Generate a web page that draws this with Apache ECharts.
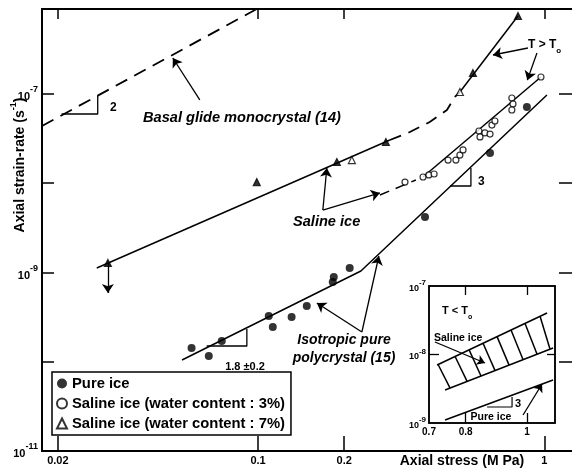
<!DOCTYPE html>
<html>
<head>
<meta charset="utf-8">
<script src="https://cdn.jsdelivr.net/npm/echarts@6/dist/echarts.min.js"></script>
<style>
    html, body { margin: 0; padding: 0; background: #fff; }
    #chart { width: 572px; height: 471px; }
</style>
</head>
<body>
<div id="chart"></div>
<script>
    var FONT = 'Liberation Sans, Arial, sans-serif';

    // tick values
    var xTicks = [0.02, 0.1, 0.2, 1];
    var yTicks = [1e-11, 1e-10, 1e-9, 1e-8, 1e-7];
    var yLabelled = [-11, -9, -7];
    var insetXLabels = [0.7, 0.8, 1];
    var insetXTicks = [0.8, 1];
    var insetYLabels = [1e-9, 1e-8, 1e-7];
    var insetYTicks = [1e-8];

    // measured points [axial stress (MPa), axial strain-rate (s-1)]
    var pureIce = [[0.0586, 1.43e-10], [0.0673, 1.16e-10], [0.0747, 1.71e-10], [0.109, 3.26e-10],
        [0.1126, 2.45e-10], [0.131, 3.17e-10], [0.148, 4.21e-10], [0.1824, 7.83e-10], [0.1839, 8.91e-10],
        [0.209, 1.12e-9], [0.383, 4.19e-9], [0.646, 2.18e-8], [0.869, 7.15e-8]];
    var saline3 = [[0.326, 1.03e-8], [0.377, 1.175e-8], [0.395, 1.24e-8], [0.412, 1.27e-8], [0.461, 1.82e-8],
        [0.491, 1.82e-8], [0.507, 2.07e-8], [0.52, 2.36e-8], [0.591, 3.85e-8], [0.596, 3.3e-8], [0.62, 3.66e-8],
        [0.646, 3.56e-8], [0.656, 4.49e-8], [0.672, 4.98e-8], [0.77, 9.02e-8], [0.777, 7.73e-8], [0.77, 6.62e-8],
        [0.973, 1.55e-7]];
    var saline7 = [[0.0299, 1.28e-9], [0.099, 1.03e-8], [0.1885, 1.73e-8], [0.2127, 1.82e-8], [0.2796, 2.9e-8],
        [0.507, 1.053e-7], [0.563, 1.72e-7], [0.809, 7.48e-7]];
    var saline7Open = [false, false, false, true, false, true, false, false];

    // fitted lines
    var basalLine = [[0.0176, 4.38e-8], [0.099, 8.96e-7]];
    var salineLine = [[0.02734, 1.123e-9], [0.2887, 3.05e-8]];
    var salineBend = [[0.2887, 3.05e-8], [0.3391, 3.752e-8], [0.3978, 4.857e-8], [0.4568, 6.615e-8],
        [0.4872, 9.26e-8], [0.5071, 1.053e-7]];
    var salineUpper = [[0.5071, 1.053e-7], [0.8086, 7.48e-7]];
    var salineLowDash = [[0.2665, 7.385e-9], [0.3559, 1.087e-8]];
    var salineLow = [[0.3766, 1.175e-8], [0.973, 1.55e-7]];
    var pureLine = [[0.05426, 1.046e-10], [0.2287, 1.039e-9], [1.021, 9.745e-8]];

    var slope2 = [[0.02062, 5.97e-8], [0.02755, 5.97e-8], [0.02755, 9.5e-8]];
    var slope18 = [[0.06615, 1.502e-10], [0.09141, 1.502e-10], [0.09141, 2.328e-10]];
    var slope3 = [[0.468, 9.316e-9], [0.554, 9.316e-9], [0.554, 1.482e-8]];

    var arrows = [
        [[0.0626, 8.57e-8], [0.0504, 2.53e-7]],
        [[0.1684, 5.01e-9], [0.1739, 1.482e-8]],
        [[0.1684, 5.01e-9], [0.2665, 7.78e-9]],
        [[0.2305, 2.154e-10], [0.1605, 4.55e-10]],
        [[0.2305, 2.154e-10], [0.2643, 1.531e-9]],
        [[0.8763, 3.277e-7], [0.6613, 2.735e-7]],
        [[0.9422, 2.881e-7], [0.872, 1.43e-7]],
        [[0.0299, 1.28e-9], [0.0299, 5.89e-10]]
    ];

    // inset (T < To)
    var bandUpper = [[0.7209, 7.03e-9], [1.0755, 4.035e-8]];
    var bandLower = [[0.7421, 3.032e-9], [1.0992, 1.244e-8]];
    var hatch = [
        [[0.7235, 7.145e-9], [0.7558, 3.232e-9]],
        [[0.7697, 9.35e-9], [0.804, 4.049e-9]],
        [[0.81, 1.167e-8], [0.8458, 4.855e-9]],
        [[0.8521, 1.457e-8], [0.8901, 5.821e-9]],
        [[0.8966, 1.825e-8], [0.9367, 7.003e-9]],
        [[0.9434, 2.279e-8], [0.9856, 8.4e-9]],
        [[0.9927, 2.844e-8], [1.0371, 1.01e-8]],
        [[1.0484, 3.612e-8], [1.0872, 1.195e-8]]
    ];
    var insetPure = [[0.7421, 1.106e-9], [1.0992, 4.243e-9]];
    var insetSlope3 = [[0.8647, 1.712e-9], [0.9469, 1.712e-9], [0.9469, 2.398e-9]];
    var insetArrows = [
        [[0.7155, 1.522e-8], [0.8582, 7.516e-9]],
        [[0.9856, 1.309e-9], [1.0561, 3.71e-9]]
    ];

    function fmtNum(v) {
        return String(+(+v).toPrecision(3));
    }
    function powLabel(v, list) {
        var e = Math.round(Math.log10(v));
        if (list.indexOf(e) < 0) return '';
        return '{b|10}{s|' + e + '}';
    }
    var supRich = {
        b: { fontSize: 11, fontWeight: 'bold', fontFamily: FONT, lineHeight: 17, verticalAlign: 'bottom', color: '#000' },
        s: { fontSize: 9, fontWeight: 'bold', fontFamily: FONT, verticalAlign: 'top', color: '#000' }
    };
    var smallRich = {
        b: { fontSize: 9, fontWeight: 'bold', fontFamily: FONT, lineHeight: 14, verticalAlign: 'bottom', color: '#000' },
        s: { fontSize: 8, fontWeight: 'bold', fontFamily: FONT, verticalAlign: 'top', color: '#000' }
    };

    function line(data, idx, dash, width) {
        return {
            type: 'line', data: data, xAxisIndex: idx, yAxisIndex: idx, symbol: 'none', z: 3,
            silent: true, lineStyle: { color: '#000', width: width || 1.5, type: dash || 'solid' }
        };
    }
    function arrowSeries(list, idx, size) {
        return {
            type: 'lines', coordinateSystem: 'cartesian2d', xAxisIndex: idx, yAxisIndex: idx, z: 3,
            symbol: ['none', 'arrow'], symbolSize: size, silent: true,
            lineStyle: { color: '#000', width: 1.3, opacity: 1 },
            data: list.map(function (c) { return { coords: c }; })
        };
    }
    function text(x, y, str, opt) {
        opt = opt || {};
        return {
            type: 'text', x: x, y: y, rotation: opt.rotation || 0, z: 20,
            style: {
                text: str, fill: '#000', fontFamily: FONT, fontSize: opt.size || 14,
                fontWeight: opt.weight || 'bold', fontStyle: opt.style || 'normal',
                align: opt.align || 'left', verticalAlign: 'middle', rich: opt.rich
            }
        };
    }

    var chart = echarts.init(document.getElementById('chart'));

    var option = {
        animation: false,
        textStyle: { fontFamily: FONT },
        grid: [
            { left: 42, top: 9, right: 0, bottom: 20 },
            { left: 429, top: 286, width: 126, height: 137, show: true, borderColor: '#000', borderWidth: 1.5, backgroundColor: '#fff' }
        ],
        xAxis: [
            {
                type: 'log', gridIndex: 0, position: 'bottom', min: 0.0176, max: 1.249,
                axisLine: { lineStyle: { color: '#000', width: 2 } },
                axisTick: { inside: true, length: 15, customValues: xTicks, lineStyle: { color: '#000', width: 1.5 } },
                axisLabel: { customValues: xTicks, formatter: fmtNum, fontSize: 11, fontWeight: 'bold', color: '#000', margin: 4 },
                splitLine: { show: false }
            },
            {
                type: 'log', gridIndex: 0, position: 'top', min: 0.0176, max: 1.249,
                axisLine: { lineStyle: { color: '#000', width: 2 } },
                axisTick: { inside: true, length: 10, customValues: xTicks, lineStyle: { color: '#000', width: 1.5 } },
                axisLabel: { show: false }, splitLine: { show: false }
            },
            {
                type: 'log', gridIndex: 1, position: 'bottom', min: 0.7, max: 1.107,
                axisLine: { lineStyle: { color: '#000', width: 1.5 } },
                axisTick: { inside: true, length: 10, customValues: insetXTicks, lineStyle: { color: '#000', width: 1.3 } },
                axisLabel: { customValues: insetXLabels, formatter: fmtNum, fontSize: 10, fontWeight: 'bold', color: '#000', margin: 4 },
                splitLine: { show: false }
            },
            {
                type: 'log', gridIndex: 1, position: 'top', min: 0.7, max: 1.107,
                axisLine: { lineStyle: { color: '#000', width: 1.5 } },
                axisTick: { inside: true, length: 9, customValues: insetXTicks, lineStyle: { color: '#000', width: 1.3 } },
                axisLabel: { show: false }, splitLine: { show: false }
            }
        ],
        yAxis: [
            {
                type: 'log', gridIndex: 0, position: 'left', min: 1e-11, max: 8.96e-7,
                axisLine: { lineStyle: { color: '#000', width: 2 } },
                axisTick: { inside: true, length: 12, customValues: yTicks, lineStyle: { color: '#000', width: 1.5 } },
                axisLabel: {
                    customValues: yTicks, margin: 4,
                    formatter: function (v) { return powLabel(v, yLabelled); }, rich: supRich
                },
                splitLine: { show: false }
            },
            {
                type: 'log', gridIndex: 0, position: 'right', min: 1e-11, max: 8.96e-7,
                axisLine: { show: false },
                axisTick: { inside: true, length: 13, customValues: yTicks, lineStyle: { color: '#000', width: 1.5 } },
                axisLabel: { show: false }, splitLine: { show: false }
            },
            {
                type: 'log', gridIndex: 1, position: 'left', min: 1e-9, max: 1e-7,
                axisLine: { lineStyle: { color: '#000', width: 1.5 } },
                axisTick: { inside: true, length: 10, customValues: insetYTicks, lineStyle: { color: '#000', width: 1.3 } },
                axisLabel: {
                    customValues: insetYLabels, margin: 3,
                    formatter: function (v) { return powLabel(v, [-9, -8, -7]); }, rich: smallRich
                },
                splitLine: { show: false }
            },
            {
                type: 'log', gridIndex: 1, position: 'right', min: 1e-9, max: 1e-7,
                axisLine: { lineStyle: { color: '#000', width: 1.5 } },
                axisTick: { inside: true, length: 8, customValues: insetYTicks, lineStyle: { color: '#000', width: 1.3 } },
                axisLabel: { show: false }, splitLine: { show: false }
            }
        ],
        legend: {
            orient: 'vertical', left: 52, top: 372, selectedMode: false, z: 10,
            padding: [4, 6, 4, 4], itemGap: 5, itemWidth: 10, itemHeight: 10, itemTextGap: 8,
            borderColor: '#000', borderWidth: 1.5, backgroundColor: '#fff',
            textStyle: { fontSize: 14.8, fontWeight: 'bold', color: '#000', lineHeight: 14 },
            data: ['Pure ice', 'Saline ice (water content : 3%)', 'Saline ice (water content : 7%)']
        },
        graphic: [
            text(18, 165, '{a|Axial strain-rate (s}{s|-1}{a|)}', {
                rotation: Math.PI / 2, align: 'center',
                rich: {
                    a: { fontSize: 14, fontWeight: 'bold', fontFamily: FONT, lineHeight: 18, verticalAlign: 'bottom' },
                    s: { fontSize: 9, fontWeight: 'bold', fontFamily: FONT, verticalAlign: 'top' }
                }
            }),
            text(462, 461, 'Axial stress (M Pa)', { align: 'center' }),
            text(143, 118, 'Basal glide monocrystal (14)', { style: 'italic', size: 14.6 }),
            text(293, 222, 'Saline ice', { style: 'italic', size: 14.6 }),
            text(344, 340, 'Isotropic pure', { style: 'italic', align: 'center' }),
            text(344, 358, 'polycrystal (15)', { style: 'italic', align: 'center' }),
            text(110, 108, '2', { size: 12 }),
            text(478, 182, '3', { size: 12 }),
            text(245, 367, '1.8 \u00b10.2', { size: 11, align: 'center' }),
            text(528, 47, '{t|T > T}{s|o}', {
                rich: {
                    t: { fontSize: 12, fontWeight: 'bold', fontFamily: FONT, lineHeight: 16, verticalAlign: 'top' },
                    s: { fontSize: 8, fontWeight: 'bold', fontFamily: FONT, verticalAlign: 'bottom' }
                }
            }),
            text(442, 313, '{t|T < T}{s|o}', {
                rich: {
                    t: { fontSize: 11, fontWeight: 'bold', fontFamily: FONT, lineHeight: 15, verticalAlign: 'top' },
                    s: { fontSize: 7, fontWeight: 'bold', fontFamily: FONT, verticalAlign: 'bottom' }
                }
            }),
            text(434, 338, 'Saline ice', { size: 10.5 }),
            text(491, 417, 'Pure ice', { size: 10.5, align: 'center' }),
            text(515, 404, '3', { size: 11 })
        ],
        series: [
            line(basalLine, 0, [13, 8], 1.8),
            line(salineLine, 0),
            line(salineBend, 0, [12, 8], 1.8),
            line(salineUpper, 0),
            line(salineLowDash, 0, [10, 7]),
            line(salineLow, 0),
            line(pureLine, 0),
            line(slope2, 0, 'solid', 1.3),
            line(slope18, 0, 'solid', 1.3),
            line(slope3, 0, 'solid', 1.3),
            arrowSeries(arrows, 0, 9),
            {
                name: 'Pure ice', type: 'scatter', xAxisIndex: 0, yAxisIndex: 0, data: pureIce, z: 4,
                symbol: 'circle', symbolSize: 8, itemStyle: { color: '#000' }
            },
            {
                name: 'Saline ice (water content : 3%)', type: 'scatter', xAxisIndex: 0, yAxisIndex: 0, data: saline3, z: 4,
                symbol: 'circle', symbolSize: 6, itemStyle: { color: '#fff', borderColor: '#000', borderWidth: 1.2 }
            },
            {
                name: 'Saline ice (water content : 7%)', type: 'scatter', xAxisIndex: 0, yAxisIndex: 0, z: 4,
                symbol: 'triangle', symbolSize: 7, itemStyle: { color: '#fff', borderColor: '#000', borderWidth: 1.2 },
                data: saline7.map(function (p, i) {
                    return saline7Open[i] ? { value: p } : { value: p, itemStyle: { color: '#000' } };
                })
            },
            line(bandUpper, 2),
            line(bandLower, 2),
            {
                type: 'lines', coordinateSystem: 'cartesian2d', xAxisIndex: 2, yAxisIndex: 2, silent: true, z: 3,
                lineStyle: { color: '#000', width: 1.5, opacity: 1 },
                data: hatch.map(function (c) { return { coords: c }; })
            },
            line(insetPure, 2),
            line(insetSlope3, 2, 'solid', 1.2),
            arrowSeries(insetArrows, 2, 8)
        ]
    };

    chart.setOption(option);
</script>
</body>
</html>
